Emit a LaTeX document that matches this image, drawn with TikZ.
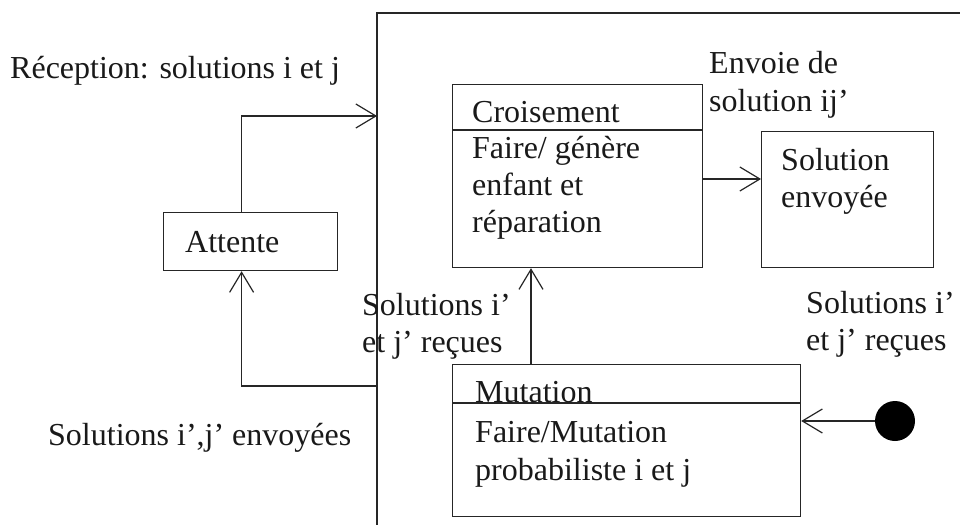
\documentclass[tikz,border=0pt]{standalone}
\usepackage{fontspec}
\setmainfont{Liberation Serif}
\usetikzlibrary{arrows.meta}
\begin{document}
\begin{tikzpicture}[x=1pt,y=-1pt,
  ln/.style={line width=1.2pt, draw=black!85},
  arr/.style={ln, -{Straight Barb[length=20pt,width=24pt,line width=1.2pt]}},
  box/.style={ln, rectangle, anchor=north west, inner sep=0pt},
  lbl/.style={anchor=base west, inner sep=0pt, font=\fontsize{32}{37}\selectfont, text=black!90}]
\useasboundingbox (0,0) rectangle (960,525);

% composite state frame (left and top edges)
\draw[ln] (960,13) -- (377,13) -- (377,525);
\coordinate (fin) at (377,116);
\coordinate (fout) at (377,386);

% states
\node[box, minimum width=174pt, minimum height=58pt] (att) at (163,212) {};
\node[box, minimum width=250pt, minimum height=183pt] (crois) at (452,84) {};
\node[box, minimum width=172pt, minimum height=136pt] (sol) at (761,131) {};
\node[box, minimum width=348pt, minimum height=152pt] (mut) at (452,364) {};
\node[circle, fill=black, minimum size=40pt, inner sep=0pt] (dot) at (895,421) {};

% compartment dividers
\coordinate (cdiv) at (0,130);
\coordinate (mdiv) at (0,403);
\draw[ln] (crois.west |- cdiv) -- (crois.east |- cdiv);
\draw[ln] (mut.west |- mdiv) -- (mut.east |- mdiv);

% state texts
\node[lbl] (t-att) at (185,252) {Attente};
\node[lbl] (t-cr) at (472,122) {Croisement};
\node[lbl] (t-cr1) at (472,158) {Faire/ génère};
\node[lbl] (t-cr2) at (472,195) {enfant et};
\node[lbl] (t-cr3) at (472,232) {réparation};
\node[lbl] (t-sol1) at (781,170) {Solution};
\node[lbl] (t-sol2) at (781,207) {envoyée};
\node[lbl] (t-mu) at (475,402) {Mutation};
\node[lbl] (t-mu1) at (475,442) {Faire/Mutation};
\node[lbl] (t-mu2) at (475,480) {probabiliste i et j};

% transition labels
\node[lbl] (l-rec) at (10,78) {Réception: solutions i et j};
\node[lbl] (l-env1) at (709,73) {Envoie de};
\node[lbl] (l-env2) at (709,111) {solution ij’};
\node[lbl] (l-sr1) at (362,315) {Solutions i’};
\node[lbl] (l-sr2) at (362,352) {et j’ reçues};
\node[lbl] (l-rr1) at (806,313) {Solutions i’};
\node[lbl] (l-rr2) at (806,350) {et j’ reçues};
\node[lbl] (l-se) at (48,445) {Solutions i’,j’ envoyées};

% transitions
\coordinate (xa) at (531,0);
\coordinate (ya) at (0,179);
\draw[arr] ([xshift=-9pt]att.north) |- (fin);
\draw[arr] (fout) -| ([xshift=-9pt]att.south);
\draw[arr] (crois.east |- ya) -- (sol.west |- ya);
\draw[arr] (mut.north -| xa) -- (crois.south -| xa);
\draw[arr] (dot.west) -- (mut.east |- dot.west);
\end{tikzpicture}
\end{document}
